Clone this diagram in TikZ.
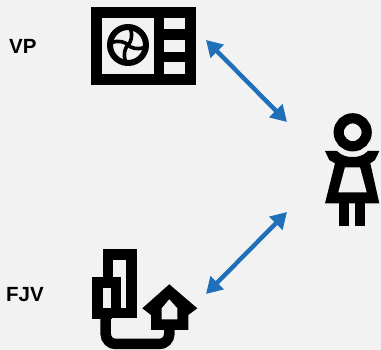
\documentclass[tikz,border=0pt]{standalone}
\usepackage{fontspec}
\setmainfont{Liberation Sans}
\definecolor{pagebg}{HTML}{F2F2F2}
\definecolor{arrowblue}{HTML}{1F70B9}
\usetikzlibrary{arrows.meta}
\tikzset{
  lab/.style={font=\fontsize{20.5}{24}\selectfont\bfseries,text=black,inner sep=0pt,anchor=base west},
  link/.style={arrowblue,line width=4.4pt,{Triangle[length=16pt,width=18pt]}-{Triangle[length=16pt,width=18pt]}},
  ink/.style={fill=black,draw=none},
  hole/.style={fill=pagebg,draw=none},
  blade/.style={black,line width=3.6pt,line cap=round}
}
\begin{document}
\begin{tikzpicture}[x=1pt,y=-1pt]
\path[fill=pagebg] (0,0) rectangle (381,350);
\useasboundingbox (0,0) rectangle (381,350);
% labels
\node[lab] (vplabel) at (9,53.5) {VP};
\node[lab] (fjvlabel) at (6,302) {FJV};
% heat pump icon
\fill[ink] (91,7) rectangle (196,85);
\fill[hole] (101.7,18) rectangle (154,74);
\fill[hole] (164.3,18) rectangle (185.3,29.3);
\fill[hole] (164.3,40.5) rectangle (185.3,52);
\fill[hole] (164.3,62.5) rectangle (185.3,74);
\draw[black,line width=6pt] (128,45) circle (18);
\foreach \a in {0,90,180,270}{
  \begin{scope}[shift={(128,45)},rotate=\a]
    \draw[blade] (0,0) .. controls (3,-3) and (5,-9) .. (2.5,-16);
  \end{scope}
}
% district heating icon
\fill[ink] (102.7,249.3) rectangle (136.7,318.3);
\fill[ink] (92,277.3) rectangle (112,319);
\fill[hole] (113.3,260) rectangle (126,277.3);
\fill[hole] (121.3,277.3) rectangle (126,308.3);
\fill[hole] (102.7,288.3) rectangle (110.7,308.3);
\draw[black,line width=10.5pt,rounded corners=10pt] (105.7,316) -- (105.7,344) -- (169.3,344) -- (169.3,325);
\fill[ink] (169.3,284.3) -- (197.3,308.3) -- (188.3,315) -- (188.3,330) -- (151,330) -- (151,315) -- (142.3,308.3) -- cycle;
\fill[hole] (161.7,308.3) -- (169.3,299.3) -- (177.3,308.3) -- (177.3,319.3) -- (161.7,319.3) -- cycle;
% person icon
\draw[black,line width=10.2pt] (352.7,132.3) circle (14);
\fill[ink] (325,151) -- (337,151) .. controls (342,156) and (347,157) .. (352.7,157) .. controls (358,157) and (363,156) .. (368,151) -- (379.3,151)
  -- (375,160) -- (370.3,163.3) -- (379.3,203.3) -- (325,203.3) -- (335,163.3) -- (329.3,160) -- cycle;
\fill[hole] (345,167.3) -- (360,167.3) -- (366.7,192.3) -- (338.3,192.3) -- cycle;
\fill[ink] (339.3,203) rectangle (349.3,225.7);
\fill[ink] (355.3,203) rectangle (365,225.7);
% connectors
\coordinate (vpend) at (206,40);
\coordinate (fjvend) at (206,294);
\coordinate (personA) at (287,122);
\coordinate (personB) at (287,212);
\draw[link] (vpend) -- (personA);
\draw[link] (fjvend) -- (personB);
\end{tikzpicture}
\end{document}
